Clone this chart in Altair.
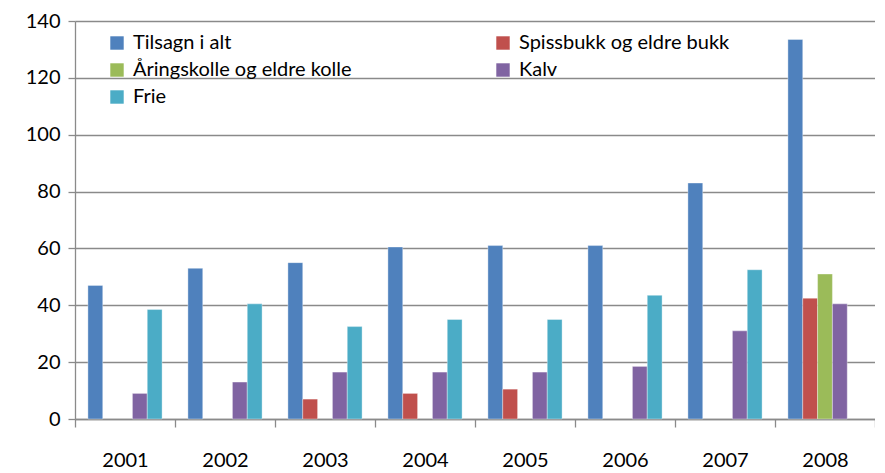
import altair as alt
import pandas as pd

years = ["2001", "2002", "2003", "2004", "2005", "2006", "2007", "2008"]
series = ["Tilsagn i alt", "Spissbukk og eldre bukk", "Åringskolle og eldre kolle", "Kalv", "Frie"]
tilsagn = [47, 53, 55, 60.5, 61, 61, 83, 133.5]
spissbukk = [None, None, 7, 9, 10.5, None, None, 42.5]
aringskolle = [None, None, None, None, None, None, None, 51]
kalv = [9, 13, 16.5, 16.5, 16.5, 18.5, 31, 40.5]
frie = [38.5, 40.5, 32.5, 35, 35, 43.5, 52.5, None]
colors = ["#4F81BD", "#C0504D", "#9BBB59", "#8064A2", "#4BACC6"]

rows = []
for s, vals in zip(series, [tilsagn, spissbukk, aringskolle, kalv, frie]):
    for y, v in zip(years, vals):
        if v is not None:
            rows.append({"År": y, "Serie": s, "Verdi": v})
df = pd.DataFrame(rows)

grid = "#8a8a8a"
chart = alt.Chart(df).mark_bar(stroke="#ffffff", strokeWidth=0.6, strokeOpacity=0.6).encode(
    x=alt.X("År:N", sort=years, title=None,
            scale=alt.Scale(paddingInner=0, paddingOuter=0),
            axis=alt.Axis(labelAngle=0, tickBand="extent", tickSize=8, tickColor=grid, tickWidth=1.3,
                          domainColor=grid, domainWidth=1.3, labelPadding=23,
                          labelFontSize=20, labelFont="Lato", labelColor="#000000", grid=False)),
    xOffset=alt.XOffset("Serie:N", sort=series,
                        scale=alt.Scale(domain=series, paddingInner=0, paddingOuter=0.87)),
    y=alt.Y("Verdi:Q", title=None,
            scale=alt.Scale(domain=[0, 140], nice=False),
            axis=alt.Axis(values=[0, 20, 40, 60, 80, 100, 120, 140], tickSize=7, tickColor=grid,
                          tickWidth=1.3, domainColor=grid, domainWidth=1.3, gridColor=grid,
                          gridWidth=1.3, labelPadding=8, labelFontSize=20, labelFont="Lato",
                          labelColor="#000000")),
    color=alt.Color("Serie:N", sort=series,
                    scale=alt.Scale(domain=series, range=colors),
                    legend=alt.Legend(title=None, orient="none", legendX=32, legendY=12, columns=2,
                                      direction="horizontal",
                                      columnPadding=141, rowPadding=7, symbolType="square",
                                      symbolSize=180, symbolStrokeWidth=0, labelFontSize=20,
                                      labelFont="Lato", labelColor="#000000", labelLimit=400,
                                      symbolOffset=0, labelOffset=6)),
).properties(
    width=800, height=398,
    autosize=alt.AutoSizeParams(type="none"),
    padding={"left": 67, "top": 13, "right": 0, "bottom": 56},
).configure_view(stroke=None)

chart.save("out.html", embed_options={"renderer": "svg", "actions": False})
